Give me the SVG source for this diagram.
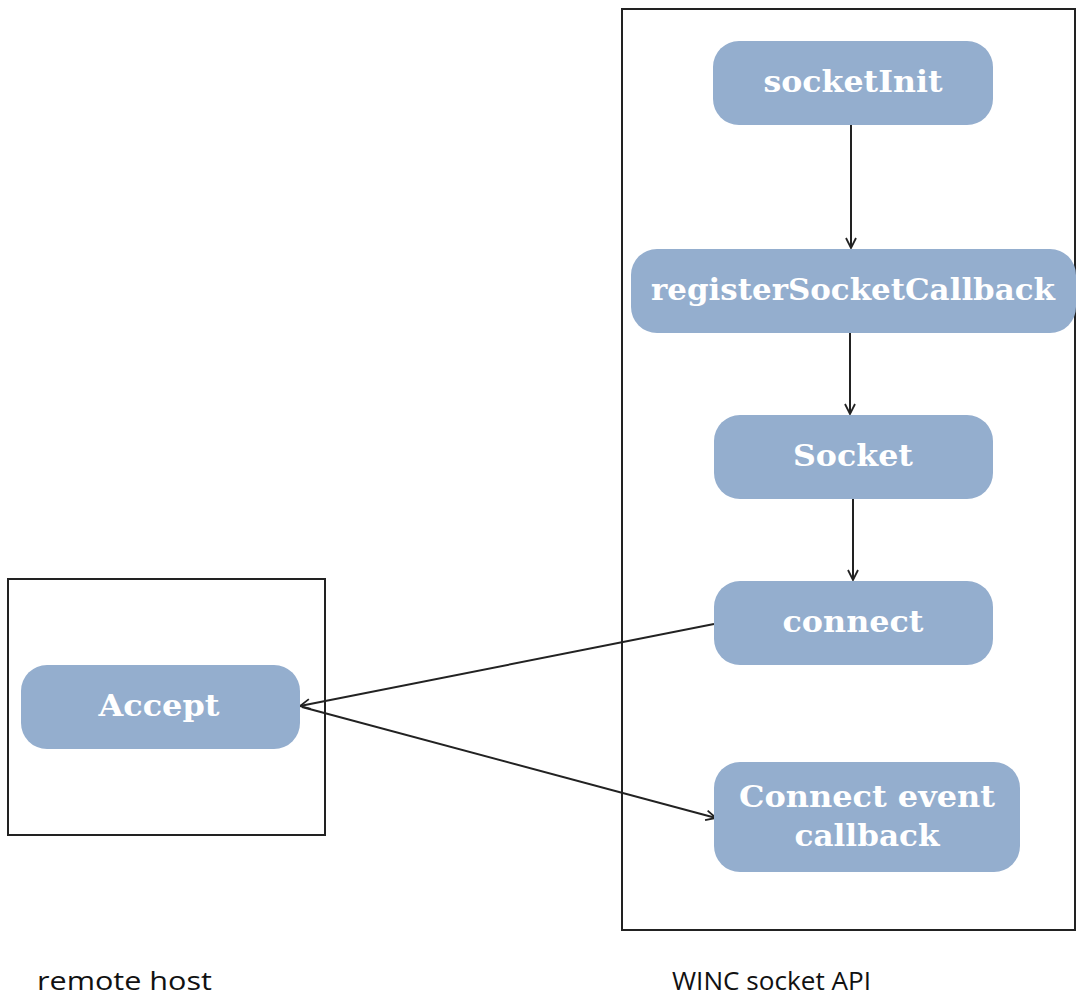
<svg xmlns="http://www.w3.org/2000/svg" width="1077" height="998" viewBox="0 0 1077 998">
<style>
.box{fill:#fff;stroke:#222;stroke-width:2}
.node{fill:#94aece}
.nt{font-family:"DejaVu Serif",serif;font-weight:bold;font-size:29px;fill:#fff;text-anchor:middle}
.lbl{font-family:"Open Sans","Liberation Sans",sans-serif;font-size:25px;fill:#111}
.conn{stroke:#222;stroke-width:2;fill:none}
</style>
<defs>
<marker id="ah" viewBox="0 0 12 12" refX="11" refY="6" markerWidth="12" markerHeight="12" markerUnits="userSpaceOnUse" orient="auto">
<path d="M1,1 L11,6 L1,11" fill="none" stroke="#222" stroke-width="1.8"/>
</marker>
</defs>
<rect width="1077" height="998" fill="#fff"/>
<g id="winc-container"><rect class="box" x="622" y="9" width="453" height="921"/></g>
<g id="remote-container"><rect class="box" x="8" y="579" width="317" height="256"/></g>
<g id="connectors">
<line class="conn" x1="851" y1="125" x2="851" y2="248" marker-end="url(#ah)"/>
<line class="conn" x1="850" y1="333" x2="850" y2="414" marker-end="url(#ah)"/>
<line class="conn" x1="853" y1="499" x2="853" y2="580" marker-end="url(#ah)"/>
<line class="conn" x1="714" y1="624" x2="300" y2="706" marker-end="url(#ah)"/>
<line class="conn" x1="302" y1="707" x2="716" y2="818" marker-end="url(#ah)"/>
</g>
<g id="socketInit"><rect class="node" x="713" y="41" width="280" height="84" rx="26"/><text class="nt" x="853" y="92" textLength="179" lengthAdjust="spacingAndGlyphs">socketInit</text></g>
<g id="registerSocketCallback"><rect class="node" x="631" y="249" width="445" height="84" rx="26"/><text class="nt" x="853" y="300" textLength="404" lengthAdjust="spacingAndGlyphs">registerSocketCallback</text></g>
<g id="Socket"><rect class="node" x="714" y="415" width="279" height="84" rx="26"/><text class="nt" x="853" y="466" textLength="120" lengthAdjust="spacingAndGlyphs">Socket</text></g>
<g id="connect"><rect class="node" x="714" y="581" width="279" height="84" rx="26"/><text class="nt" x="853" y="632" textLength="141" lengthAdjust="spacingAndGlyphs">connect</text></g>
<g id="ConnectEventCallback"><rect class="node" x="714" y="762" width="306" height="110" rx="26"/><text class="nt" x="867" y="807" textLength="256" lengthAdjust="spacingAndGlyphs">Connect event</text><text class="nt" x="867" y="846" textLength="145" lengthAdjust="spacingAndGlyphs">callback</text></g>
<g id="Accept"><rect class="node" x="21" y="665" width="279" height="84" rx="26"/><text class="nt" x="159" y="716" textLength="121" lengthAdjust="spacingAndGlyphs">Accept</text></g>
<text class="lbl" x="37" y="990" textLength="175" lengthAdjust="spacingAndGlyphs">remote host</text>
<text class="lbl" x="672" y="990" textLength="199" lengthAdjust="spacingAndGlyphs">WINC socket API</text>
</svg>
